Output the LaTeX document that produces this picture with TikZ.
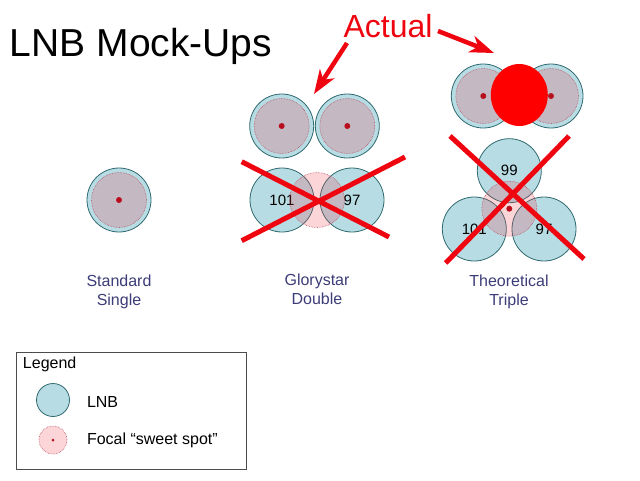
\documentclass[tikz,border=0pt]{standalone}
\usepackage{fontspec}
\setmainfont{Liberation Sans}
\usetikzlibrary{arrows.meta,shapes.geometric}
\definecolor{lnbfill}{HTML}{B8DCE3}
\definecolor{lnbline}{HTML}{2F6A70}
\definecolor{focalfill}{HTML}{F1404D}
\definecolor{focalline}{HTML}{B84A5A}
\definecolor{dotred}{HTML}{B80F1E}
\definecolor{labelblue}{HTML}{3C3C78}
\definecolor{markred}{HTML}{EE0510}

\begin{document}
\begin{tikzpicture}[
        x=1pt, y=-1pt,
        every node/.style={inner sep=0pt, outer sep=0pt, align=center},
        lnb/.style={circle, draw=lnbline, line width=.8pt, fill=lnbfill, minimum size=64pt, font=\fontsize{15}{17}\selectfont},
        focal/.style={circle, draw=focalline, densely dotted, line width=.6pt, fill=focalfill, fill opacity=.22, minimum size=55pt},
        focaldot/.style={circle, fill=dotred, minimum size=6pt},
        caption/.style={text=labelblue, font=\fontsize{16}{19}\selectfont},
        plain/.style={anchor=west, font=\fontsize{16}{17}\selectfont},
        strike/.style={draw=markred, line width=5pt},
        pointer/.style={draw=markred, line width=4.5pt, -{Stealth[length=24pt, width=17pt, inset=7pt]}}
    ]
    \useasboundingbox (0,0) rectangle (640,480);

    % Titles
    \node (title) at (141,46) {\fontsize{39}{44}\selectfont LNB Mock-Ups};
    \node (actual) at (388,26) [text=markred] {\fontsize{32}{36}\selectfont Actual};

    % Standard single
    \node (single) at (119,200) [lnb] {};
    \node (singlef) at (119,200) [focal] {};
    \node (singled) at (119,200) [focaldot] {};
    \node (singlet) at (119,291.5) [caption] {Standard\\Single};

    % Glorystar double, actual
    \node (dblL) at (281.7,126) [lnb] {};
    \node (dblLf) at (281.7,126) [focal] {};
    \node (dblLd) at (281.7,126) [focaldot] {};
    \node (dblR) at (347.3,126) [lnb] {};
    \node (dblRf) at (347.3,126) [focal] {};
    \node (dblRd) at (347.3,126) [focaldot] {};

    % Glorystar double, mock-up
    \node (gsL) at (282,200) [lnb] {101};
    \node (gsR) at (352,200) [lnb] {97};
    \node (gsf) at (317,200) [focal] {};
    \node (gst) at (317,289.5) [caption] {Glorystar\\Double};

    % Triple, actual
    \node (triL) at (483.3,96) [lnb] {};
    \node (triLf) at (483.3,96) [focal] {};
    \node (triLd) at (483.3,96) [focaldot] {};
    \node (triR) at (551,96) [lnb] {};
    \node (triRf) at (551,96) [focal] {};
    \node (triRd) at (551,96) [focaldot] {};
    \node (blob) at (519.3,95) [ellipse, fill=red, minimum width=57pt, minimum height=62pt] {};

    % Triple, mock-up
    \node (ttT) at (509.3,170.7) [lnb] {99};
    \node (ttL) at (474.3,229) [lnb] {101};
    \node (ttR) at (544,229) [lnb] {97};
    \node (ttf) at (509.3,208.7) [focal] {};
    \node (ttd) at (509.3,208.7) [focaldot] {};
    \node (ttt) at (509,291.5) [caption] {Theoretical\\Triple};

    % Legend
    \node (legend) at (131,411) [draw=black!70, line width=.8pt, minimum width=230pt, minimum height=117pt] {};
    \node (legendt) at (23,364) [plain] {Legend};
    \node (keylnb) at (53,400) [lnb, minimum size=33pt] {};
    \node (keylnbt) at (87,402) [plain] {LNB};
    \node (keyf) at (53,440) [focal, minimum size=28pt] {};
    \node (keyd) at (53,440) [focaldot, minimum size=3pt] {};
    \node (keyft) at (87,440.5) [plain] {Focal “sweet spot”};

    % Free ends
    \coordinate (gsA) at (241.7,161.7);
    \coordinate (gsB) at (389,237);
    \coordinate (gsC) at (241.7,240.7);
    \coordinate (gsD) at (405,157);
    \coordinate (ttA) at (450,136);
    \coordinate (ttB) at (584,259);
    \coordinate (ttC) at (445.7,263);
    \coordinate (ttD) at (569,136);
    \coordinate (dblTip) at (314,94);
    \coordinate (triTip) at (494,53);
    \coordinate (ptrA) at (347,43);
    \coordinate (ptrB) at (438,31);

    % Edges
    \draw[strike] (gsA) -- (gsB);
    \draw[strike] (gsC) -- (gsD);
    \draw[strike] (ttA) -- (ttB);
    \draw[strike] (ttC) -- (ttD);
    \draw[pointer] (ptrA) -- (dblTip);
    \draw[pointer] (ptrB) -- (triTip);

\end{tikzpicture}
\end{document}
